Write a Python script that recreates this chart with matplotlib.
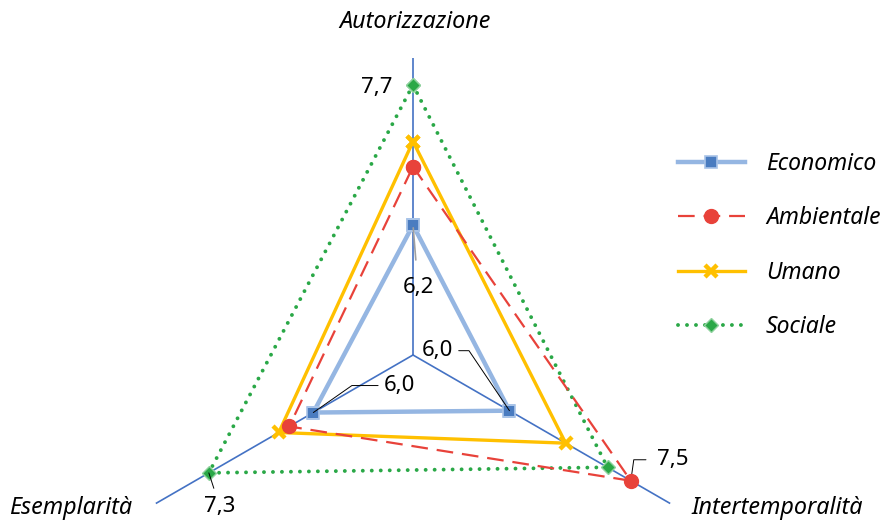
import numpy as np
import matplotlib
matplotlib.use('agg')
import matplotlib.pyplot as plt

plt.rcParams['font.family'] = ['Noto Sans', 'DejaVu Sans']

# data
categories = ['Autorizzazione', 'Intertemporalità', 'Esemplarità']
economico = [6.2, 6.0, 6.04]
ambientale = [6.83, 7.51, 6.34]
umano = [7.1, 6.7, 6.47]
sociale = [7.71, 7.22, 7.34]
r_min, r_max = 4.8, 8.0

W, H = 887, 521
fig = plt.figure(figsize=(W / 100, H / 100), dpi=100)

# polar axes centred on (413, 355) px with radius 297 px
cx, cy, rad = 413, 355, 297
ax = fig.add_axes([(cx - rad) / W, (H - cy - rad) / H, 2 * rad / W, 2 * rad / H],
                  projection='polar')
ax.set_theta_offset(np.pi / 2)
ax.set_theta_direction(-1)
ax.set_ylim(r_min, r_max)
ax.set_axis_off()
ax.patch.set_visible(False)

angles = np.arange(len(categories)) * 2 * np.pi / len(categories)
closed = np.append(angles, angles[0])

# axis spokes
for a in angles:
    ax.plot([a, a], [r_min, r_max], color='#4472C4', lw=1.2, zorder=1)

def close(v):
    return list(v) + [v[0]]

ax.plot(closed, close(economico), color='#95B6E2', lw=3.2, marker='s', ms=8,
        mfc='#4A7CC0', mec='#A9C4E8', mew=1.2, label='Economico', zorder=3)
ax.plot(closed, close(ambientale), color='#E8423A', lw=1.6, ls=(0, (7.5, 4)),
        marker='o', ms=10, mfc='#E8423A', mec='#E8423A', label='Ambientale', zorder=4)
ax.plot(closed, close(umano), color='#FFC000', lw=2.4, marker='x', ms=8,
        mew=3.2, mec='#FFC000', label='Umano', zorder=2)
ax.plot(closed, close(sociale), color='#2AA847', lw=2.8, ls=(0, (0.01, 2.3)),
        dash_capstyle='round', marker='D', ms=7, mfc='#2AA847', mec='#8FD29E',
        mew=1.0, label='Sociale', zorder=2)

def fmt(v):
    return f'{v:.1f}'.replace('.', ',')

lab = dict(fontsize=16, ha='center', va='center', textcoords='offset pixels')
# data labels with leader lines
ax.annotate(fmt(economico[0]), xy=(angles[0], economico[0]), xytext=(5, -62),
            arrowprops=dict(arrowstyle='-', color='#A0A0A0', lw=1.2,
                            shrinkA=10, shrinkB=2), **lab)
ax.annotate(fmt(economico[1]), xy=(angles[1], economico[1]), xytext=(-72, 60),
            arrowprops=dict(arrowstyle='-', color='black', lw=0.7, shrinkA=2,
                            shrinkB=0, relpos=(1, 0.5),
                            connectionstyle='angle,angleA=0,angleB=124,rad=0'), **lab)
ax.annotate(fmt(economico[2]), xy=(angles[2], economico[2]), xytext=(86, 27),
            arrowprops=dict(arrowstyle='-', color='black', lw=0.7, shrinkA=2,
                            shrinkB=0, relpos=(0, 0.5),
                            connectionstyle='angle,angleA=0,angleB=35,rad=0'), **lab)
ax.annotate(fmt(ambientale[1]), xy=(angles[1], ambientale[1]), xytext=(42, 21),
            arrowprops=dict(arrowstyle='-', color='black', lw=0.7, shrinkA=6,
                            shrinkB=0, relpos=(0, 0.5),
                            connectionstyle='angle,angleA=0,angleB=82,rad=0'), **lab)
ax.annotate(fmt(sociale[0]), xy=(angles[0], sociale[0]), xytext=(-36, -3), **lab)
ax.annotate(fmt(sociale[2]), xy=(angles[2], sociale[2]), xytext=(11, -34),
            arrowprops=dict(arrowstyle='-', color='black', lw=0.7, shrinkA=4,
                            shrinkB=0), **lab)

# category titles
title_pos = [(415, 22), (777, 508), (71, 508)]
for name, (x, y) in zip(categories, title_pos):
    fig.text(x / W, 1 - y / H, name, fontsize=16.8, style='italic',
             ha='center', va='center')

fig.legend(loc='upper left', bbox_to_anchor=(657 / W, 1 - 131 / H), frameon=False,
           handlelength=2.95, handletextpad=0.9, labelspacing=1.33,
           prop={'style': 'italic', 'size': 16.5})

fig.savefig('out.png', dpi=100)
